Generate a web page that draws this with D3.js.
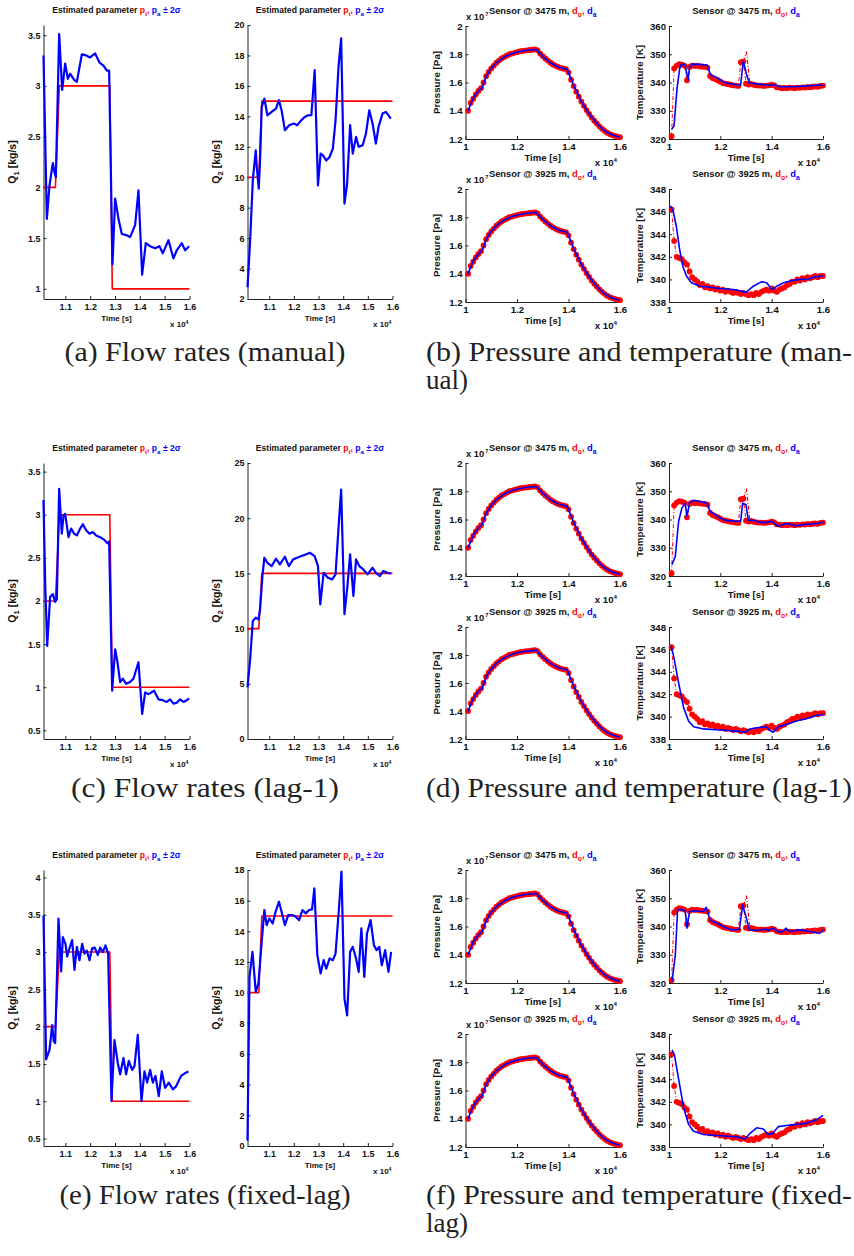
<!doctype html>
<html>
<head>
<meta charset="utf-8">
<title>Flow rates, pressure and temperature</title>
<script src="https://d3js.org/d3.v7.min.js"></script>
<style>
  body { margin: 0; background: #fff; }
  svg { display: block; }
</style>
</head>
<body>
<script>
var RED = "#ff0000", BLUE = "#0000ff";
var SANS = "Liberation Sans, Arial, Helvetica, sans-serif";
var SERIF = "Liberation Serif, Times New Roman, DejaVu Serif, serif";

// true flow rates (step changes)
var trueTimeQ1 = [10120, 10600, 10760, 12790, 12890, 16000];
var trueQ1 = [2, 2, 3, 3, 1, 1];
var trueTimeQ2 = [10120, 10580, 10700, 16000];
var trueQ2 = [10, 10, 15, 15];

// estimated Q1 / Q2 - manual
var timeQ1Manual = [10120,10254,10362,10496,10563,10617,10751,10872,10992,11100,11194,11355,11462,11663,11838,11999,12200,12375,12536,12670,12764,12898,13005,13140,13274,13448,13609,13811,13945,14093,14240,14414,14616,14790,14924,15152,15353,15488,15689,15823,15985];
var q1Manual = [3.30,1.69,2.02,2.24,2.15,2.10,3.51,2.96,3.22,3.07,3.12,3.06,3.04,3.31,3.30,3.28,3.32,3.23,3.20,3.15,3.15,1.24,1.89,1.69,1.54,1.53,1.51,1.63,1.97,1.14,1.45,1.42,1.40,1.42,1.35,1.48,1.30,1.38,1.45,1.38,1.42];
var timeQ2Manual = [10120,10227,10335,10455,10496,10576,10630,10697,10804,10925,11100,11274,11395,11502,11636,11811,11999,12133,12308,12442,12576,12710,12844,12978,13086,13180,13314,13448,13582,13690,13811,13918,14052,14160,14281,14388,14522,14629,14790,14924,15058,15192,15326,15434,15595,15729,15836,15930];
var q2Manual = [2.77,5.84,9.79,11.77,10.67,9.25,11.1,14.62,15.17,14.07,14.29,14.51,15.06,14.40,13.09,13.42,13.53,13.42,13.75,13.96,14.07,14.07,17.04,9.46,11.55,11.44,11.1,11.33,11.88,13.74,17.26,19.12,8.26,9.57,13.42,11.55,12.65,12.0,12.10,12.87,14.40,13.53,12.21,13.31,14.18,14.29,14.07,13.85];

// estimated Q1 / Q2 - lag-1
var timeQ1Lag = [10120,10187,10268,10388,10496,10590,10657,10751,10858,10925,10992,11127,11234,11355,11462,11596,11703,11838,11972,12106,12240,12401,12562,12697,12764,12885,13005,13099,13207,13314,13448,13609,13743,13945,14093,14214,14348,14576,14750,14924,15085,15220,15353,15488,15622,15756,15890,15985];
var q1Lag = [3.17,2.21,1.48,2.05,2.08,1.99,2.02,3.30,2.78,2.99,3.01,2.74,2.84,2.78,2.76,2.84,2.89,2.82,2.78,2.80,2.76,2.74,2.71,2.67,2.69,0.96,1.44,1.29,1.06,1.10,1.04,1.06,1.10,1.29,0.69,0.94,0.92,0.96,0.86,0.85,0.83,0.86,0.81,0.82,0.86,0.83,0.85,0.87];
var timeQ2Lag = [10120,10227,10335,10455,10563,10630,10724,10804,10925,11100,11274,11435,11636,11798,11972,12133,12308,12482,12643,12844,12978,13072,13207,13381,13555,13690,13824,13918,14052,14173,14281,14415,14522,14656,14817,14991,15192,15326,15488,15622,15796,15930];
var q2Lag = [4.67,7.23,10.69,10.99,10.84,11.75,14.76,16.42,15.96,15.66,16.33,15.81,16.51,15.66,16.27,16.42,16.57,16.72,16.87,16.57,15.66,12.20,15.06,14.61,14.46,14.91,19.58,22.59,11.3,13.86,16.72,12.95,16.27,15.66,15.36,14.91,15.51,15.06,14.76,15.21,15.06,15.0];

// estimated Q1 / Q2 - fixed-lag
var timeQ1Fixed = [10120,10227,10362,10469,10536,10590,10724,10831,10898,11006,11073,11167,11274,11368,11462,11569,11676,11770,11864,11972,12079,12187,12308,12401,12509,12616,12723,12858,12979,13113,13207,13341,13448,13555,13690,13784,13918,14066,14187,14294,14415,14522,14629,14763,14884,15018,15166,15327,15461,15662,15837,15958];
var q1Fixed = [3.49,1.56,1.69,2.02,1.80,1.78,3.45,2.74,3.20,3.11,2.94,3.05,3.16,2.76,3.07,2.89,3.11,2.98,3.02,2.89,3.05,3.06,2.96,3.06,3.00,3.09,2.98,1.0,1.82,1.51,1.36,1.58,1.36,1.54,1.42,1.47,1.89,1.0,1.40,1.25,1.42,1.25,1.34,1.07,1.40,1.18,1.25,1.16,1.20,1.34,1.38,1.40];
var timeQ2Fixed = [10120,10200,10321,10455,10563,10697,10804,10898,11006,11140,11260,11395,11502,11636,11771,11932,12079,12214,12348,12482,12616,12737,12831,12952,13086,13207,13314,13448,13582,13690,13824,13931,14052,14160,14281,14388,14522,14629,14737,14857,14965,15112,15246,15354,15461,15568,15702,15836,15944];
var q2Fixed = [0.35,11.03,12.66,10.05,10.6,13.32,15.39,14.41,14.84,14.51,15.28,15.93,15.28,14.41,15.06,15.06,14.95,14.73,15.39,15.17,15.39,15.43,16.8,12.44,11.25,12.12,11.57,12.23,12.12,12.55,15.39,17.89,9.61,8.52,12.66,12.99,12.23,11.36,14.19,11.03,13.86,14.73,13.10,12.77,12.99,11.79,12.77,11.36,12.66];

// sensor observations (same in every run)
var obsTime = [10100,10200,10300,10400,10500,10600,10700,10800,10900,11000,
  11100,11200,11300,11400,11500,11600,11700,11800,11900,12000,
  12100,12200,12300,12400,12500,12600,12700,12800,12900,13000,
  13100,13200,13300,13400,13500,13600,13700,13800,13900,14000,
  14100,14200,14300,14400,14500,14600,14700,14800,14900,15000,
  15100,15200,15300,15400,15500,15600,15700,15800,15900,16000];
var pressureObs = [1.40,1.455,1.485,1.515,1.54,1.56,1.60,1.645,1.675,1.70,
  1.72,1.74,1.755,1.77,1.78,1.79,1.80,1.805,1.81,1.815,
  1.82,1.823,1.826,1.828,1.83,1.832,1.834,1.828,1.805,1.787,
  1.77,1.755,1.74,1.728,1.718,1.71,1.703,1.698,1.695,1.672,
  1.62,1.575,1.535,1.50,1.465,1.435,1.405,1.378,1.352,1.33,
  1.31,1.29,1.273,1.258,1.245,1.235,1.228,1.222,1.217,1.213];
var tempObs3475 = [321.0,345.0,346.0,346.5,346.3,346.0,340.8,345.5,346.0,345.8,
  345.9,345.7,345.6,345.5,345.3,342.3,341.6,341.2,340.8,340.3,
  339.8,339.6,339.4,339.2,339.0,338.9,338.8,347.2,347.4,339.6,
  339.3,339.5,339.2,339.0,338.9,338.9,338.8,338.9,339.0,339.2,
  339.0,338.3,338.2,338.0,338.1,338.0,338.2,338.1,338.0,338.2,
  338.1,338.3,338.2,338.4,338.3,338.5,338.6,338.5,338.8,338.9];
// raw 3475 m record between samples (dash-dot spike, no marker)
var spikeTime3475 = [12900, 13020, 13150];
var spikeTemp3475 = [347.4, 350.8, 339.5];
var tempObs3925 = [346.2,343.4,342.0,341.9,341.8,341.5,341.3,340.7,340.2,340.0,
  339.8,339.5,339.6,339.3,339.4,339.2,339.3,339.1,339.2,339.0,
  339.1,338.9,339.0,338.9,338.8,338.9,338.8,338.7,338.8,338.7,
  338.6,338.7,338.6,338.8,338.7,338.9,339.0,339.1,339.0,339.2,
  339.0,338.9,339.1,339.2,339.3,339.5,339.6,339.8,339.8,340.0,
  339.9,340.1,340.0,340.2,340.1,340.2,340.3,340.2,340.3,340.3];

// estimated pressure (all runs look the same)
var pressureEstTime = [10100,10300,10500,10650,10800,10950,11200,11500,11800,12100,12400,12750,13000,13300,13600,13950,14200,14500,14800,15100,15400,15700,16000];
var pressureEst = [1.40,1.49,1.54,1.565,1.64,1.69,1.74,1.78,1.805,1.82,1.828,1.834,1.785,1.74,1.71,1.693,1.58,1.467,1.378,1.31,1.258,1.228,1.213];

// estimated temperature, 3475 m
var tempTopTimeManual = [10100,10196,10313,10417,10483,10587,10639,10743,10809,10913,11200,11487,11617,11852,12178,12700,12791,12895,13025,13130,13417,13808,14134,14329,14851,15372,16000];
var tempTopManual = [323.4,324.6,337.9,345.0,346.5,346.4,345.6,340.9,345.6,346.5,346.4,346.2,342.7,341.8,339.9,339.1,339.1,347.6,342.7,339.9,339.5,339.1,339.1,338.5,338.5,338.8,339.1];
var tempTopTimeLag = [10116,10246,10375,10504,10634,10698,10802,10957,11215,11474,11603,11797,11991,12250,12702,12793,12870,13000,13090,13284,13543,13801,13995,14254,14577,14965,15353,15741,16000];
var tempTopLag = [324.0,327.0,339.4,344.1,345.8,341.1,345.8,346.8,346.4,345.8,342.9,341.7,340.5,339.6,339.4,339.4,345.8,345.2,339.7,339.7,339.0,339.0,339.4,337.6,338.6,337.8,338.3,338.6,339.0];
var tempTopTimeFixed = [10116,10246,10336,10504,10634,10698,10802,10957,11345,11448,11603,11797,11991,12250,12444,12741,12870,13000,13129,13414,13737,13866,14060,14254,14448,14551,14706,14900,15159,15482,15870,16000];
var tempTopFixed = [320.6,329.8,346.1,345.9,345.6,339.4,345.3,345.6,345.3,346.8,342.4,341.4,340.6,339.4,338.8,339.0,347.6,343.5,338.8,338.6,339.1,338.6,339.4,338.2,338.2,339.4,338.2,338.6,338.8,338.2,337.6,338.8];

// estimated temperature, 3925 m
var tempBotTimeManual = [10052,10156,10287,10417,10548,10678,10874,11200,11591,11982,12504,12765,13000,13286,13612,13808,14003,14199,14460,14786,15112,15373,15633,16000];
var tempBotManual = [346.5,346.1,344.7,342.6,341.1,340.3,339.7,339.4,339.3,339.2,339.1,339.0,338.85,339.4,339.8,339.7,339.1,339.4,339.7,339.9,340.0,340.0,340.2,340.3];
var tempBotTimeLag = [10078,10181,10375,10569,10763,10957,11345,11991,12638,12961,13155,13414,13801,13905,14060,14254,14577,14965,15353,15741,16000];
var tempBotLag = [346.3,345.4,343.0,340.8,339.6,339.1,338.9,338.8,338.7,338.6,338.9,339.0,339.1,338.8,338.6,339.1,339.3,339.6,339.8,340.1,340.2];
var tempBotTimeFixed = [10116,10207,10375,10569,10763,10957,11345,11991,12638,12961,13155,13414,13672,13866,14034,14254,14577,14965,15353,15741,16000];
var tempBotFixed = [346.6,346.2,344.0,341.5,340.0,339.4,339.1,339.0,338.9,338.7,339.2,339.7,339.6,339.1,339.2,339.8,339.9,340.0,340.1,340.4,340.8];

// axis ticks
var flowTimeTicks = [11000, 12000, 13000, 14000, 15000, 16000];
var sensorTimeTicks = [10000, 12000, 14000, 16000];
var pressureTicks = [1.2, 1.4, 1.6, 1.8, 2];
var tempTopTicks = [320, 330, 340, 350, 360];
var tempBotTicks = [338, 340, 342, 344, 346, 348];

var captionsLeft = ["(a) Flow rates (manual)", "(c) Flow rates (lag-1)", "(e) Flow rates (fixed-lag)"];
var captionsRight = [["(b) Pressure and temperature (man-", "ual)"], ["(d) Pressure and temperature (lag-1)"], ["(f) Pressure and temperature (fixed-", "lag)"]];

var rows = [
  { q1T: timeQ1Manual, q1: q1Manual, q2T: timeQ2Manual, q2: q2Manual,
    q1Dom: [0.9, 3.6], q1Ticks: [1, 1.5, 2, 2.5, 3, 3.5], q2Dom: [2, 20], q2Ticks: [2, 4, 6, 8, 10, 12, 14, 16, 18, 20],
    topT: tempTopTimeManual, top: tempTopManual, botT: tempBotTimeManual, bot: tempBotManual,
    left: [25, 299], right: [[26, 139], [189, 302]], capY: 361 },
  { q1T: timeQ1Lag, q1: q1Lag, q2T: timeQ2Lag, q2: q2Lag,
    q1Dom: [0.4, 3.6], q1Ticks: [0.5, 1, 1.5, 2, 2.5, 3, 3.5], q2Dom: [0, 25], q2Ticks: [0, 5, 10, 15, 20, 25],
    topT: tempTopTimeLag, top: tempTopLag, botT: tempBotTimeLag, bot: tempBotLag,
    left: [463, 739], right: [[463, 576], [627, 739]], capY: 797 },
  { q1T: timeQ1Fixed, q1: q1Fixed, q2T: timeQ2Fixed, q2: q2Fixed,
    q1Dom: [0.4, 4.1], q1Ticks: [0.5, 1, 1.5, 2, 2.5, 3, 3.5, 4], q2Dom: [0, 18], q2Ticks: [0, 2, 4, 6, 8, 10, 12, 14, 16, 18],
    topT: tempTopTimeFixed, top: tempTopFixed, botT: tempBotTimeFixed, bot: tempBotFixed,
    left: [870, 1146], right: [[870, 983], [1034, 1147]], capY: 1204 }
];

var svg = d3.select("body").append("svg").attr("width", 854).attr("height", 1256);

// text with coloured parts and subscripts
function richText(sel, parts, fs) {
  var shift = 0;
  parts.forEach(function(p) {
    var want = p.sub ? fs * 0.35 : 0;
    sel.append("tspan")
      .attr("dy", want - shift)
      .attr("fill", p.c || "#111")
      .attr("font-size", p.sub ? fs * 0.72 : fs)
      .text(p.t);
    shift = want;
  });
}

function axesBox(o) {
  var x = d3.scaleLinear().domain(o.xDom).range([o.l, o.r]);
  var y = d3.scaleLinear().domain(o.yDom).range([o.b, o.t]);
  var g = svg.append("g");
  var fmt = function(d) { return String(+(d / 1e4).toFixed(1)); };

  g.append("g").attr("transform", "translate(0," + o.b + ")")
    .call(d3.axisBottom(x).tickValues(o.xTicks).tickFormat(fmt)
      .tickSizeInner(-3).tickSizeOuter(0).tickPadding(o.xPad));
  g.append("g").attr("transform", "translate(" + o.l + ",0)")
    .call(d3.axisLeft(y).tickValues(o.yTicks).tickFormat(function(d) { return String(d); })
      .tickSizeInner(-3).tickSizeOuter(0).tickPadding(3));

  g.selectAll(".tick text").attr("font-size", o.fs).attr("font-weight", "bold")
    .attr("font-family", SANS).attr("fill", "#111");
  g.selectAll(".domain, .tick line").attr("stroke", "#222");

  var cx = (o.l + o.r) / 2;
  // x label and exponent
  g.append("text").attr("x", cx).attr("y", o.b + o.timeY).attr("text-anchor", "middle")
    .attr("font-family", SANS).attr("font-weight", "bold").attr("font-size", o.lfs).attr("fill", "#111")
    .text("Time [s]");
  var ex = g.append("text").attr("x", o.r - o.expR).attr("y", o.b + o.expY).attr("text-anchor", "end")
    .attr("font-family", SANS).attr("font-weight", "bold").attr("font-size", o.lfs).attr("fill", "#111");
  ex.append("tspan").text("x 10");
  ex.append("tspan").attr("dy", -o.lfs * 0.4).attr("font-size", o.lfs * 0.65).text("4");

  // y label
  var yl = g.append("text")
    .attr("transform", "translate(" + (o.l - o.ylOff) + "," + ((o.t + o.b) / 2) + ") rotate(-90)")
    .attr("text-anchor", "middle").attr("font-family", SANS).attr("font-weight", "bold");
  richText(yl, o.ylabel, o.yfs);

  // title
  var tt = g.append("text").attr("x", cx).attr("y", o.t - o.titleOff).attr("text-anchor", "middle")
    .attr("font-family", SANS).attr("font-weight", "bold");
  richText(tt, o.title, o.tfs);

  return { x: x, y: y, g: g };
}

function drawLine(ax, xs, ys, color, width, dash) {
  var pts = xs.map(function(t, i) { return [t, ys[i]]; });
  ax.g.append("path").datum(pts)
    .attr("fill", "none").attr("stroke", color).attr("stroke-width", width)
    .attr("stroke-linejoin", "round").attr("stroke-dasharray", dash || null)
    .attr("d", d3.line().x(function(d) { return ax.x(d[0]); }).y(function(d) { return ax.y(d[1]); }));
}

function drawDots(ax, xs, ys) {
  ax.g.append("g").selectAll("circle").data(xs).enter().append("circle")
    .attr("cx", function(d) { return ax.x(d); })
    .attr("cy", function(d, i) { return ax.y(ys[i]); })
    .attr("r", 2.9).attr("fill", RED);
}

var flowTitle = [{ t: "Estimated parameter " }, { t: "p", c: RED }, { t: "t", c: RED, sub: true }, { t: ", ", c: RED },
  { t: "p", c: BLUE }, { t: "a", c: BLUE, sub: true }, { t: " \u00b1 2\u03c3", c: BLUE }];

function sensorTitle(depth) {
  return [{ t: "Sensor @ " + depth + " m,  " }, { t: "d", c: RED }, { t: "o", c: RED, sub: true }, { t: ", ", c: RED },
    { t: "d", c: BLUE }, { t: "a", c: BLUE, sub: true }];
}

rows.forEach(function(r, ri) {
  var flowBase = { xDom: [10120, 16000], xTicks: flowTimeTicks, xPad: 4.5, fs: 9, lfs: 8, yfs: 10.5, tfs: 8.6,
    t: r.left[0], b: r.left[1], timeY: 22, expY: 28, expR: 1, titleOff: 12, title: flowTitle, ylOff: 28 };

  // Q1
  var a1 = axesBox(Object.assign({}, flowBase, { l: 43.5, r: 189.5, yDom: r.q1Dom, yTicks: r.q1Ticks,
    ylabel: [{ t: "Q" }, { t: "1", sub: true }, { t: " [kg/s]" }] }));
  drawLine(a1, trueTimeQ1, trueQ1, RED, 1.6);
  drawLine(a1, r.q1T, r.q1, BLUE, 2.2);

  // Q2
  var a2 = axesBox(Object.assign({}, flowBase, { l: 247.5, r: 392.5, yDom: r.q2Dom, yTicks: r.q2Ticks,
    ylabel: [{ t: "Q" }, { t: "2", sub: true }, { t: " [kg/s]" }] }));
  drawLine(a2, trueTimeQ2, trueQ2, RED, 1.6);
  drawLine(a2, r.q2T, r.q2, BLUE, 2.2);

  // sensors
  [0, 1].forEach(function(k) {
    var depth = k === 0 ? 3475 : 3925;
    var box = r.right[k];
    var sensorBase = { xDom: [10000, 16000], xTicks: sensorTimeTicks, xPad: 4.5, fs: 9.6, lfs: 9.6, yfs: 9.8, tfs: 9.4,
      t: box[0], b: box[1], timeY: 21.5, expY: 26.5, expR: 3, titleOff: 12.5, title: sensorTitle(depth), ylOff: 26 };

    // pressure scale factor, partly hidden under the title
    var sc = svg.append("text").attr("x", 466).attr("y", box[0] - 6).attr("font-family", SANS)
      .attr("font-weight", "bold").attr("font-size", 9.4).attr("fill", "#111");
    sc.append("tspan").text("x 10");
    sc.append("tspan").attr("dy", -4).attr("dx", 1).attr("font-size", 5.5).text("7");

    var p = axesBox(Object.assign({}, sensorBase, { l: 465.5, r: 620, yDom: [1.2, 2], yTicks: pressureTicks,
      ylabel: [{ t: "Pressure [Pa]" }] }));
    drawLine(p, obsTime, pressureObs, RED, 1, "4,2,1,2");
    drawDots(p, obsTime, pressureObs);
    drawLine(p, pressureEstTime, pressureEst, BLUE, 1.6);

    var T = axesBox(Object.assign({}, sensorBase, { l: 669, r: 823, yDom: k === 0 ? [320, 360] : [338, 348],
      yTicks: k === 0 ? tempTopTicks : tempBotTicks, ylabel: [{ t: "Temperature [K]" }] }));
    var obs = k === 0 ? tempObs3475 : tempObs3925;
    drawLine(T, obsTime, obs, RED, 1, "4,2,1,2");
    if (k === 0) drawLine(T, spikeTime3475, spikeTemp3475, RED, 1.2, "4,2,1,2");
    drawDots(T, obsTime, obs);
    drawLine(T, k === 0 ? r.topT : r.botT, k === 0 ? r.top : r.bot, BLUE, 1.6);
  });

  // captions
  svg.append("text").attr("x", 205).attr("y", r.capY).attr("text-anchor", "middle")
    .attr("font-family", SERIF).attr("font-size", 27).attr("fill", "#222")
    .attr("textLength", [281, 268, 291][ri]).attr("lengthAdjust", "spacingAndGlyphs")
    .text(captionsLeft[ri]);
  captionsRight[ri].forEach(function(line, li) {
    var t = svg.append("text").attr("x", 426).attr("y", r.capY + li * 28)
      .attr("font-family", SERIF).attr("font-size", 27).attr("fill", "#222").text(line);
    if (li === 0) t.attr("textLength", 426).attr("lengthAdjust", "spacingAndGlyphs");
  });
});
</script>
</body>
</html>
